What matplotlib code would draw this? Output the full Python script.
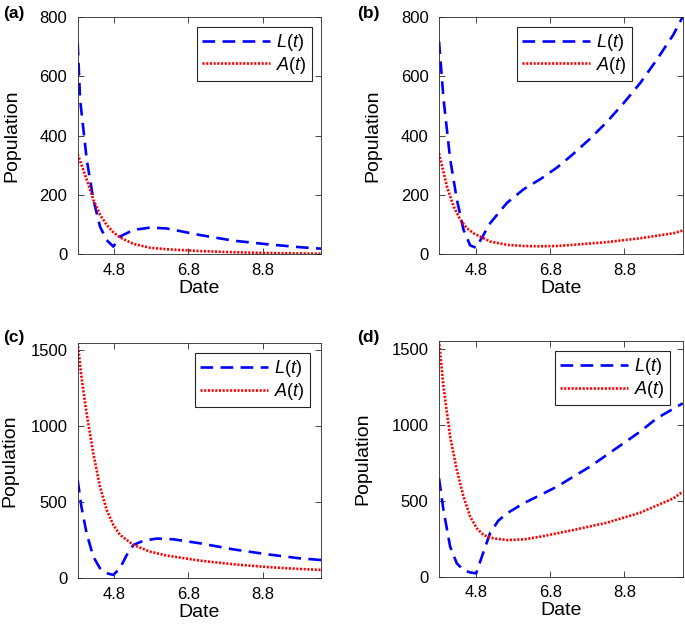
import matplotlib
matplotlib.use("Agg")
import matplotlib.pyplot as plt

plt.rcParams['font.family'] = ['Liberation Sans', 'DejaVu Sans']
plt.rcParams['mathtext.fontset'] = 'custom'
plt.rcParams['mathtext.it'] = 'Liberation Sans:italic'
plt.rcParams['mathtext.rm'] = 'Liberation Sans'

# ---- data ----
xa_L = [3.82, 3.885, 4.065, 4.244, 4.423, 4.60, 4.78, 4.96, 5.32, 5.77, 6.22, 7.11, 8.01, 8.91, 9.80, 10.37]
ya_L = [712, 521, 318, 183, 93, 48, 26, 60, 82, 90, 87, 65, 46, 34, 24, 19]
xa_A = [3.82, 4.065, 4.244, 4.423, 4.60, 4.78, 4.96, 5.32, 5.77, 6.22, 7.11, 8.01, 8.91, 10.37]
ya_A = [337, 251, 183, 133, 99, 74, 57, 35, 22, 17, 11, 7, 4.5, 2]

xb_L = [3.80, 3.92, 4.10, 4.28, 4.46, 4.64, 4.80, 5.18, 5.63, 6.08, 6.53, 6.98, 7.42, 7.87, 8.32, 8.77, 9.22, 9.67, 10.12, 10.37]
yb_L = [717, 525, 321, 185, 83, 30, 22, 105, 173, 219, 253, 292, 338, 389, 445, 508, 576, 655, 740, 800]
xb_A = [3.80, 4.01, 4.19, 4.37, 4.55, 4.73, 5.18, 5.63, 6.08, 6.53, 6.98, 7.42, 8.32, 9.22, 10.12, 10.37]
yb_A = [340, 230, 162, 117, 88, 71, 43, 32, 28, 27, 28, 32, 41, 54, 71, 80]

xc_L = [3.82, 3.92, 4.06, 4.24, 4.42, 4.60, 4.78, 4.96, 5.14, 5.32, 5.59, 5.95, 6.40, 7.11, 8.01, 8.91, 9.80, 10.37]
yc_L = [646, 471, 296, 142, 66, 33, 22, 66, 153, 219, 247, 261, 256, 230, 190, 158, 131, 120]
xc_A = [3.82, 3.92, 4.06, 4.24, 4.42, 4.60, 4.78, 4.96, 5.32, 5.77, 6.22, 7.11, 8.01, 8.91, 9.80, 10.37]
yc_A = [1548, 1325, 1084, 821, 602, 449, 350, 285, 219, 175, 149, 116, 92, 74, 61, 55]

xd_L = [3.80, 3.92, 4.10, 4.28, 4.46, 4.64, 4.80, 4.98, 5.18, 5.40, 5.63, 6.08, 6.53, 6.98, 7.42, 7.87, 8.32, 8.77, 9.22, 9.67, 10.37]
yd_L = [649, 440, 198, 88, 44, 28, 22, 150, 290, 370, 418, 484, 539, 594, 660, 726, 803, 880, 957, 1045, 1144]
xd_A = [3.80, 3.92, 4.10, 4.28, 4.46, 4.64, 4.82, 5.00, 5.27, 5.63, 6.08, 6.53, 6.98, 7.42, 8.32, 9.22, 10.12, 10.37]
yd_A = [1557, 1254, 924, 704, 528, 396, 319, 275, 253, 242, 246, 264, 286, 308, 356, 422, 517, 561]

xticks = [4.8, 6.8, 8.8]
xtick_labels = ['4.8', '6.8', '8.8']
panel_labels = ['(a)', '(b)', '(c)', '(d)']

W, H = 685, 632
panels = [
    dict(L=(xa_L, ya_L), A=(xa_A, ya_A), ylim=(0, 800), yt=[0, 200, 400, 600, 800],
         pos=[0.1134, 0.5976, 0.3552, 0.376], leg=(0.963, 0.957), ylx=-0.237,
         lab=(3, 6), xlim=(3.82, 10.37)),
    dict(L=(xb_L, yb_L), A=(xb_A, yb_A), ylim=(0, 800), yt=[0, 200, 400, 600, 800],
         pos=[0.6409, 0.5976, 0.3558, 0.376], leg=(0.791, 0.957), ylx=-0.235,
         lab=(357, 6), xlim=(3.80, 10.37)),
    dict(L=(xc_L, yc_L), A=(xc_A, yc_A), ylim=(0, 1548), yt=[0, 500, 1000, 1500],
         pos=[0.1134, 0.085, 0.3552, 0.3728], leg=(0.955, 0.956), ylx=-0.244,
         lab=(3, 330), xlim=(3.82, 10.37)),
    dict(L=(xd_L, yd_L), A=(xd_A, yd_A), ylim=(0, 1557), yt=[0, 500, 1000, 1500],
         pos=[0.6409, 0.0875, 0.3558, 0.3734], leg=(0.948, 0.956), ylx=-0.276,
         lab=(357, 330), xlim=(3.80, 10.37)),
]

fig = plt.figure(figsize=(W / 100, H / 100), dpi=100)
for i, p in enumerate(panels):
    ax = fig.add_axes(p['pos'])
    ax.plot(*p['L'], color='#0000ff', lw=1.9, linestyle=(0, (4.8, 2.8)), label='$L(t)$')
    ax.plot(*p['A'], color='#ff0000', lw=1.9, linestyle=(0, (0.8, 0.6)), label='$A(t)$')
    ax.set_xlim(*p['xlim'])
    ax.set_ylim(*p['ylim'])
    ax.set_xticks(xticks)
    ax.set_xticklabels(xtick_labels)
    ax.set_yticks(p['yt'])
    ax.tick_params(direction='in', top=True, right=True, labelsize=12, length=4,
                   width=0.6, color='#262626')
    ax.tick_params(axis='x', pad=6)
    ax.tick_params(axis='y', pad=7.5)
    for s in ax.spines.values():
        s.set_color('#262626')
        s.set_linewidth(0.6)
    ax.set_xlabel('Date', fontsize=14, labelpad=1.5)
    ax.set_ylabel('Population', fontsize=14)
    ax.yaxis.set_label_coords(p['ylx'], 0.5)
    leg = ax.legend(loc='upper right', bbox_to_anchor=p['leg'], borderaxespad=0,
                    fontsize=13, handlelength=3.75, handletextpad=0.35,
                    labelspacing=0.1, borderpad=0.28, fancybox=False,
                    edgecolor='#262626', framealpha=1)
    leg.get_frame().set_linewidth(0.8)
    fig.text(p['lab'][0] / W, 1 - p['lab'][1] / H, panel_labels[i], fontsize=12.5,
             fontweight='bold', va='top', ha='left')

fig.savefig('out.png', dpi=100)
